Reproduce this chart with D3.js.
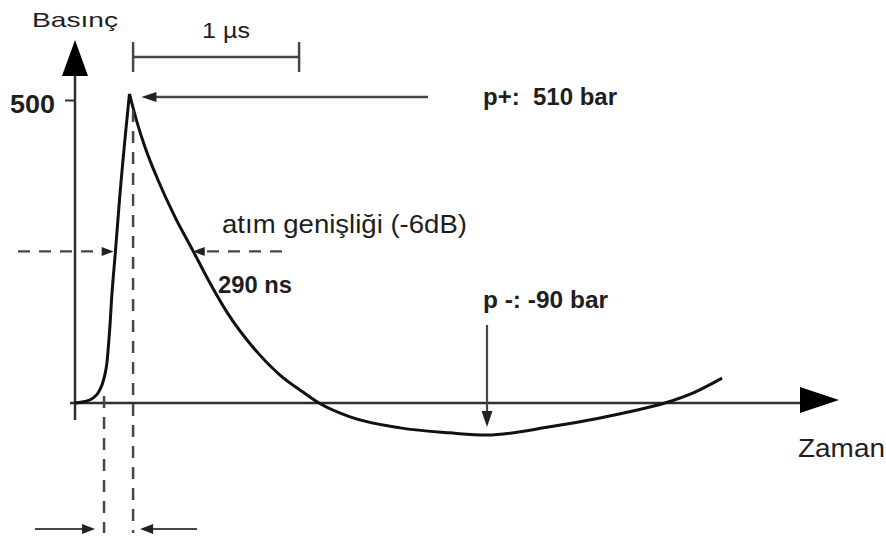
<!DOCTYPE html>
<html>
<head>
<meta charset="utf-8">
<script src="https://cdn.jsdelivr.net/npm/d3@7"></script>
<style>
  body { margin: 0; background: #fff; }
  svg text { font-family: "Liberation Sans", Arial, sans-serif; fill: #1e1e1e; }
</style>
</head>
<body>
<svg id="chart" width="886" height="550"></svg>
<script>
// Shock-wave pressure pulse: time (µs) against pressure (bar)
const riseTimeUs = [0, 0.06, 0.108, 0.139, 0.163, 0.181, 0.193, 0.202, 0.211, 0.22, 0.243, 0.268, 0.328];
const risePressureBar = [0, 2.5, 8, 16.5, 30, 48, 68, 96, 129, 170, 248, 335, 510];
const fallTimeUs = [0.328, 0.373, 0.422, 0.5, 0.602, 0.711, 0.813, 0.922, 1.072, 1.235, 1.373, 1.47, 1.657, 1.958, 2.259, 2.482, 2.861, 3.163, 3.361, 3.554, 3.735, 3.898];
const fallPressureBar = [510, 464, 422, 368, 307, 251, 198, 147, 92, 46, 18, 0, -39, -70, -84, -90, -67, -42, -22.5, 0, 18, 41];

const yTickValues = [500];
const yTitle = "Basınç";
const xTitle = "Zaman";
const scaleBarLabel = "1 µs";
const peakLabel = "p+:\u00a0 510 bar";
const troughLabel = "p -: -90 bar";
const widthTitle = "atım genişliği (-6dB)";
const widthLabel = "290 ns";

const peakMarkUs = 0.35;       // reference line through the peak
const riseStartMarkUs = 0.175; // reference line at the foot of the rise
const scaleBarUs = 1;          // length of the time scale bar

const svg = d3.select("#chart");
const axisColor = "#2e2e2e";
const annColor = "#474747";

const peakP = d3.max(fallPressureBar);
const troughP = d3.min(fallPressureBar);
const troughT = fallTimeUs[fallPressureBar.indexOf(troughP)];
const peakT = fallTimeUs[0];

// 166 px per microsecond; positive and negative pressure drawn at different gains
const x = d3.scaleLinear().domain([0, 4.6]).range([75, 75 + 4.6 * 166]);
const y = d3.scaleLinear().domain([troughP, 0, 500]).range([435, 403, 100]);

function arrowHead(g, tipX, tipY, dir, len, half, color) {
  // dir: unit vector pointing towards the tip
  const [dx, dy] = dir;
  const bx = tipX - dx * len, by = tipY - dy * len;
  const px = -dy * half, py = dx * half;
  g.append("path")
    .attr("d", `M${tipX},${tipY}L${bx + px},${by + py}L${bx - px},${by - py}Z`)
    .attr("fill", color);
}

// ---- axes ----
const axes = svg.append("g");
const x0 = x(0), y0 = y(0);
axes.append("line").attr("x1", x0).attr("x2", x0).attr("y1", 420).attr("y2", 70)
  .attr("stroke", axisColor).attr("stroke-width", 2.5);
arrowHead(axes, x0, 40, [0, -1], 36, 13, "#000");
axes.append("line").attr("x1", 70).attr("x2", 802).attr("y1", y0).attr("y2", y0)
  .attr("stroke", axisColor).attr("stroke-width", 2.5);
arrowHead(axes, 839, y0 - 3, [1, 0], 39, 13, "#000");

const yAxis = svg.append("g").attr("transform", `translate(${x0},0)`)
  .call(d3.axisLeft(y).tickValues(yTickValues).tickSize(10).tickPadding(10).tickFormat(d3.format("d")));
yAxis.select(".domain").remove();
yAxis.selectAll(".tick line").attr("stroke", axisColor).attr("stroke-width", 2);
yAxis.selectAll(".tick text")
  .attr("font-size", 25).attr("font-weight", "bold")
  .attr("font-family", "Liberation Sans, Arial, sans-serif")
  .attr("fill", "#1e1e1e").attr("dy", "0.48em")
  .attr("textLength", 45).attr("lengthAdjust", "spacingAndGlyphs");

svg.append("text").attr("x", 32).attr("y", 27).attr("font-size", 21)
  .attr("textLength", 86).attr("lengthAdjust", "spacingAndGlyphs").text(yTitle);
svg.append("text").attr("x", 798).attr("y", 457).attr("font-size", 25)
  .attr("textLength", 87).attr("lengthAdjust", "spacingAndGlyphs").text(xTitle);

// ---- pressure curve (rise and decay drawn separately to keep the sharp peak) ----
const line = d3.line().x(d => x(d[0])).y(d => y(d[1])).curve(d3.curveMonotoneX);
const rise = riseTimeUs.map((t, i) => [t, risePressureBar[i]]);
const fall = fallTimeUs.map((t, i) => [t, fallPressureBar[i]]);
const curve = svg.append("g").attr("fill", "none").attr("stroke", "#111")
  .attr("stroke-width", 3).attr("stroke-linejoin", "miter");
curve.append("path").attr("d", line(rise));
curve.append("path").attr("d", line(fall));

// ---- time scale bar ----
const ann = svg.append("g");
const sbY = 57;
ann.append("line").attr("x1", x(peakMarkUs)).attr("x2", x(peakMarkUs + scaleBarUs))
  .attr("y1", sbY).attr("y2", sbY).attr("stroke", annColor).attr("stroke-width", 2.5);
[peakMarkUs, peakMarkUs + scaleBarUs].forEach(t => {
  ann.append("line").attr("x1", x(t)).attr("x2", x(t)).attr("y1", sbY - 15).attr("y2", sbY + 15)
    .attr("stroke", annColor).attr("stroke-width", 2.5);
});
svg.append("text").attr("x", 202).attr("y", 38).attr("font-size", 22)
  .attr("textLength", 48).attr("lengthAdjust", "spacingAndGlyphs").text(scaleBarLabel);

// ---- peak pressure arrow ----
const peakY = y(peakP) + 3;
const peakTipX = x(peakT) + 12;
ann.append("line").attr("x1", 428).attr("x2", peakTipX + 10).attr("y1", peakY).attr("y2", peakY)
  .attr("stroke", annColor).attr("stroke-width", 2.5);
arrowHead(ann, peakTipX, peakY, [-1, 0], 15, 5, "#222");
svg.append("text").attr("x", 483).attr("y", 105).attr("font-size", 23).attr("font-weight", "bold")
  .attr("textLength", 134).attr("lengthAdjust", "spacingAndGlyphs").text(peakLabel);

// ---- -6 dB pulse width ----
function crossing(ts, ps, level) {
  for (let i = 1; i < ts.length; i++) {
    if ((ps[i - 1] - level) * (ps[i] - level) <= 0) {
      const f = (level - ps[i - 1]) / (ps[i] - ps[i - 1]);
      return ts[i - 1] + f * (ts[i] - ts[i - 1]);
    }
  }
}
const halfLevel = peakP / 2;
const tRise = crossing(riseTimeUs, risePressureBar, halfLevel);
const tFall = crossing(fallTimeUs, fallPressureBar, halfLevel);
const hY = y(halfLevel) + 3;
const dash = "12,9";
ann.append("line").attr("x1", 18).attr("x2", x(tRise) - 10).attr("y1", hY).attr("y2", hY)
  .attr("stroke", annColor).attr("stroke-width", 2.2).attr("stroke-dasharray", dash);
arrowHead(ann, x(tRise) - 2, hY, [1, 0], 12, 4.5, "#222");
ann.append("line").attr("x1", 282).attr("x2", x(tFall) + 10).attr("y1", hY).attr("y2", hY)
  .attr("stroke", annColor).attr("stroke-width", 2.2).attr("stroke-dasharray", dash);
arrowHead(ann, x(tFall) + 1, hY, [-1, 0], 12, 4.5, "#222");
svg.append("text").attr("x", 222).attr("y", 233).attr("font-size", 25)
  .attr("textLength", 245).attr("lengthAdjust", "spacingAndGlyphs").text(widthTitle);
svg.append("text").attr("x", 218).attr("y", 293).attr("font-size", 24).attr("font-weight", "bold")
  .attr("textLength", 74).attr("lengthAdjust", "spacingAndGlyphs").text(widthLabel);

// ---- vertical reference lines and rise-time arrows ----
ann.append("line").attr("x1", x(riseStartMarkUs)).attr("x2", x(riseStartMarkUs))
  .attr("y1", 396).attr("y2", 533)
  .attr("stroke", annColor).attr("stroke-width", 2.5).attr("stroke-dasharray", dash);
ann.append("line").attr("x1", x(peakMarkUs)).attr("x2", x(peakMarkUs))
  .attr("y1", 110).attr("y2", 533)
  .attr("stroke", annColor).attr("stroke-width", 2.5).attr("stroke-dasharray", dash);
const bY = 529;
ann.append("line").attr("x1", 35).attr("x2", x(riseStartMarkUs) - 18).attr("y1", bY).attr("y2", bY)
  .attr("stroke", annColor).attr("stroke-width", 2.2);
arrowHead(ann, x(riseStartMarkUs) - 9, bY, [1, 0], 13, 5, "#222");
ann.append("line").attr("x1", 197).attr("x2", x(peakMarkUs) + 18).attr("y1", bY).attr("y2", bY)
  .attr("stroke", annColor).attr("stroke-width", 2.2);
arrowHead(ann, x(peakMarkUs) + 7, bY, [-1, 0], 13, 5, "#222");

// ---- negative peak arrow ----
const trX = x(troughT);
ann.append("line").attr("x1", trX).attr("x2", trX).attr("y1", 325).attr("y2", y(troughP) - 18)
  .attr("stroke", annColor).attr("stroke-width", 2.2);
arrowHead(ann, trX, y(troughP) - 8, [0, 1], 16, 5.5, "#222");
svg.append("text").attr("x", 483).attr("y", 308).attr("font-size", 24).attr("font-weight", "bold")
  .attr("textLength", 125).attr("lengthAdjust", "spacingAndGlyphs").text(troughLabel);
</script>
</body>
</html>
